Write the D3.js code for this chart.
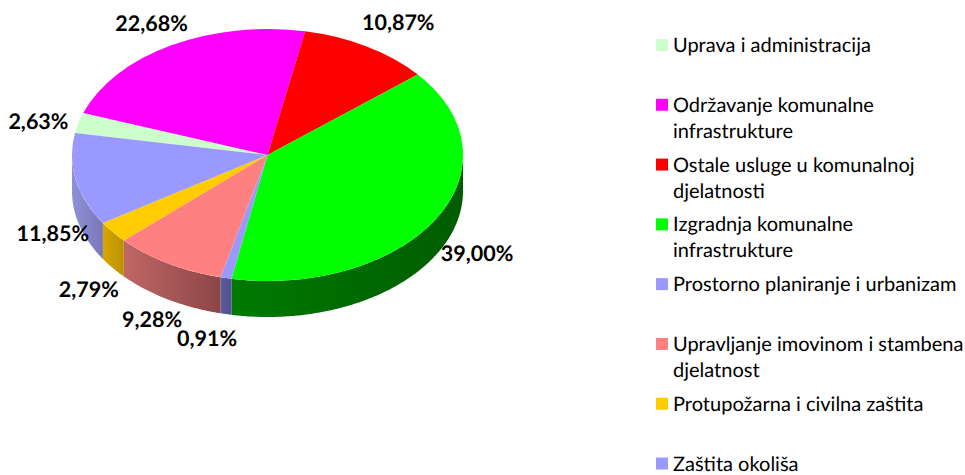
<!DOCTYPE html>
<html>
<head>
<meta charset="utf-8">
<script src="https://cdn.jsdelivr.net/npm/d3@7"></script>
<style>
  body { margin: 0; background: #fff; }
  text { font-family: Lato, "Open Sans", sans-serif; fill: #000; text-rendering: geometricPrecision; }
</style>
</head>
<body>
<div id="chart"></div>
<script>
var categories = [
  ["Uprava i administracija"],
  ["Održavanje komunalne", "infrastrukture"],
  ["Ostale usluge u komunalnoj", "djelatnosti"],
  ["Izgradnja komunalne", "infrastrukture"],
  ["Prostorno planiranje i urbanizam"],
  ["Upravljanje imovinom i stambena", "djelatnost"],
  ["Protupožarna i civilna zaštita"],
  ["Zaštita okoliša"]
];
var values = [2.63, 22.68, 10.87, 39.00, 0.91, 9.28, 2.79, 11.85];
var colors = ["#ccffcc", "#ff00ff", "#ff0000", "#00ff00", "#9999ff", "#ff8080", "#ffcc00", "#9999ff"];
var wallLight = ["#a3cca3", "#cc00cc", "#cc0000", "#007a00", "#5a5aa0", "#c06666", "#d9a800", "#9090d8"];
var wallDark = ["#a3cca3", "#cc00cc", "#cc0000", "#005c00", "#50508c", "#8c4646", "#b89000", "#7878b8"];

// label offsets from the rim point at each slice's middle angle
var labelOffsets = [[-40, -1], [-19, -22], [31, -24], [41, 35], [-19, 60], [-16, 56], [-24, 57], [-23, 54]];

var width = 965, height = 475;
var cx = 267.5, cy = 155, rx = 195.5, ry = 126, depth = 36;
var startAngle = -80 * Math.PI / 180;

var svg = d3.select("#chart").append("svg")
    .attr("width", width)
    .attr("height", height)
    .style("display", "block");

var pie = d3.pie().sort(null)
    .startAngle(startAngle)
    .endAngle(startAngle + 2 * Math.PI);
var slices = pie(values);

function rimX(a) { return cx + rx * Math.sin(a); }
function rimY(a) { return cy - ry * Math.cos(a); }

var defs = svg.append("defs");
slices.forEach(function (d, i) {
  var g = defs.append("linearGradient").attr("id", "wall" + i);
  g.append("stop").attr("offset", "0%").attr("stop-color", wallLight[i]);
  g.append("stop").attr("offset", "100%").attr("stop-color", wallDark[i]);
});

// side wall, only the front half of the rim can be seen
var wall = d3.area()
    .x(function (a) { return rimX(a); })
    .y0(function (a) { return rimY(a); })
    .y1(function (a) { return rimY(a) + depth; });

svg.append("g").selectAll("path")
    .data(slices)
    .enter().append("path")
    .attr("d", function (d) {
      var a0 = Math.max(d.startAngle, Math.PI / 2);
      var a1 = Math.min(d.endAngle, 3 * Math.PI / 2);
      if (a1 <= a0) return null;
      return wall(d3.range(a0, a1, 0.01).concat([a1]));
    })
    .attr("fill", function (d, i) { return "url(#wall" + i + ")"; });

// top face, a flat pie squeezed into an ellipse
var arc = d3.arc().innerRadius(0).outerRadius(rx);
svg.append("g")
    .attr("transform", "translate(" + cx + "," + cy + ") scale(1," + (ry / rx) + ")")
    .selectAll("path")
    .data(slices)
    .enter().append("path")
    .attr("d", arc)
    .attr("fill", function (d, i) { return colors[i]; });

// value labels
svg.append("g").selectAll("text")
    .data(slices)
    .enter().append("text")
    .attr("x", function (d, i) { return rimX((d.startAngle + d.endAngle) / 2) + labelOffsets[i][0]; })
    .attr("y", function (d, i) { return rimY((d.startAngle + d.endAngle) / 2) + labelOffsets[i][1]; })
    .attr("dy", "0.35em")
    .attr("text-anchor", "middle")
    .style("font-size", "21.5px")
    .style("font-weight", "bold")
    .text(function (d) { return d.data.toFixed(2).replace(".", ",") + "%"; });

// legend
var legendY = d3.scalePoint().domain(d3.range(categories.length)).range([45, 463.5]);
var legend = svg.append("g").selectAll("g")
    .data(categories)
    .enter().append("g")
    .attr("transform", function (d, i) { return "translate(656," + legendY(i) + ")"; });

legend.append("rect")
    .attr("y", -6)
    .attr("width", 12)
    .attr("height", 12)
    .attr("fill", function (d, i) { return colors[i]; });

legend.selectAll("text")
    .data(function (d) { return d; })
    .enter().append("text")
    .attr("x", 17)
    .attr("y", function (d, i) { return i * 26; })
    .attr("dy", "0.35em")
    .style("font-size", "20px")
    .text(function (d) { return d; });
</script>
</body>
</html>
